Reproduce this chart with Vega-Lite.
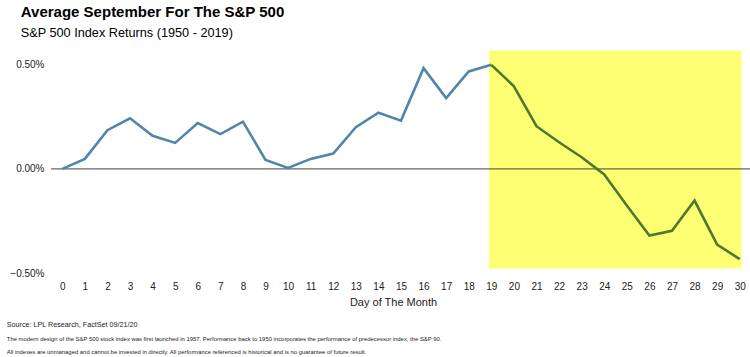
{
  "$schema": "https://vega.github.io/schema/vega-lite/v6.json",
  "background": "white",
  "padding": {"left": 6, "top": 5, "right": 0, "bottom": 0},
  "config": {
    "view": {"stroke": null},
    "font": "Liberation Sans",
    "concat": {"spacing": 0},
    "axisX": {"labelOverlap": false, "labelBound": false}
  },
  "title": {
    "text": "Average September For The S&P 500",
    "subtitle": "S&P 500 Index Returns (1950 - 2019)",
    "anchor": "start",
    "frame": "bounds",
    "font": "Liberation Sans",
    "fontSize": 15,
    "fontWeight": "bold",
    "color": "#000000",
    "subtitleFont": "Liberation Sans",
    "subtitleFontSize": 12.7,
    "subtitleColor": "#000000",
    "subtitlePadding": 7,
    "offset": 4,
    "dx": 14
  },
  "datasets": {
    "returns": [
      {"day": 0, "ret": 0.0, "series": "Before"},
      {"day": 1, "ret": 0.048, "series": "Before"},
      {"day": 2, "ret": 0.186, "series": "Before"},
      {"day": 3, "ret": 0.243, "series": "Before"},
      {"day": 4, "ret": 0.159, "series": "Before"},
      {"day": 5, "ret": 0.125, "series": "Before"},
      {"day": 6, "ret": 0.22, "series": "Before"},
      {"day": 7, "ret": 0.167, "series": "Before"},
      {"day": 8, "ret": 0.227, "series": "Before"},
      {"day": 9, "ret": 0.043, "series": "Before"},
      {"day": 10, "ret": 0.005, "series": "Before"},
      {"day": 11, "ret": 0.048, "series": "Before"},
      {"day": 12, "ret": 0.074, "series": "Before"},
      {"day": 13, "ret": 0.2, "series": "Before"},
      {"day": 14, "ret": 0.27, "series": "Before"},
      {"day": 15, "ret": 0.232, "series": "Before"},
      {"day": 16, "ret": 0.484, "series": "Before"},
      {"day": 17, "ret": 0.34, "series": "Before"},
      {"day": 18, "ret": 0.468, "series": "Before"},
      {"day": 19, "ret": 0.5, "series": "Before"},
      {"day": 19, "ret": 0.5, "series": "After"},
      {"day": 20, "ret": 0.397, "series": "After"},
      {"day": 21, "ret": 0.205, "series": "After"},
      {"day": 22, "ret": 0.128, "series": "After"},
      {"day": 23, "ret": 0.056, "series": "After"},
      {"day": 24, "ret": -0.027, "series": "After"},
      {"day": 25, "ret": -0.176, "series": "After"},
      {"day": 26, "ret": -0.32, "series": "After"},
      {"day": 27, "ret": -0.297, "series": "After"},
      {"day": 28, "ret": -0.152, "series": "After"},
      {"day": 29, "ret": -0.364, "series": "After"},
      {"day": 30, "ret": -0.433, "series": "After"}
    ],
    "highlight": [
      {"x1": 18.9, "x2": 30.08, "y1": -0.478, "y2": 0.569}
    ],
    "zero": [{"y": 0}]
  },
  "vconcat": [
    {
      "width": 700,
      "height": 229,
      "title": {
        "text": "Source: LPL Research, FactSet 09/21/20",
        "subtitle": [
          "The modern design of the S&P 500 stock index was first launched in 1957. Performance back to 1950 incorporates the performance of predecessor index, the S&P 90.",
          "All indexes are unmanaged and cannot be invested in directly. All performance referenced is historical and is no guarantee of future result."
        ],
        "orient": "bottom",
        "anchor": "start",
        "frame": "bounds",
        "font": "Liberation Sans",
        "fontSize": 7.2,
        "fontWeight": "normal",
        "color": "#222222",
        "subtitleFont": "Liberation Sans",
        "subtitleFontSize": 5.9,
        "subtitleColor": "#222222",
        "subtitleLineHeight": 13,
        "subtitlePadding": 8,
        "offset": 14,
        "dx": -3
      },
      "layer": [
        {
          "data": {"name": "highlight"},
          "mark": {"type": "rect", "color": "#FFFF73"},
          "encoding": {
            "x": {
              "field": "x1",
              "type": "quantitative",
              "scale": {"domain": [-0.5, 30.5], "nice": false, "zero": false},
              "axis": {
                "title": "Day of The Month",
                "values": [0,1,2,3,4,5,6,7,8,9,10,11,12,13,14,15,16,17,18,19,20,21,22,23,24,25,26,27,28,29,30],
                "labelOverlap": false,
                "grid": false,
                "domain": false,
                "ticks": false,
                "labelFontSize": 10,
                "labelColor": "#222222",
                "labelFont": "Liberation Sans",
                "labelPadding": 8,
                "titleFontSize": 11,
                "titleFontWeight": "normal",
                "titleColor": "#222222",
                "titleFont": "Liberation Sans",
                "titlePadding": 5,
                "titleX": 342
              }
            },
            "x2": {"field": "x2"},
            "y": {
              "field": "y1",
              "type": "quantitative",
              "scale": {"domain": [-0.5, 0.6], "nice": false, "zero": false},
              "axis": {
                "title": null,
                "values": [-0.5, 0, 0.5],
                "labelExpr": "format(datum.value, '.2f') + '%'",
                "grid": false,
                "domain": false,
                "ticks": false,
                "labelFontSize": 10,
                "labelColor": "#222222",
                "labelFont": "Liberation Sans",
                "labelPadding": 7
              }
            },
            "y2": {"field": "y2"}
          }
        },
        {
          "data": {"name": "zero"},
          "mark": {"type": "rule", "color": "#404040", "strokeWidth": 1},
          "encoding": {"y": {"field": "y", "type": "quantitative"}}
        },
        {
          "data": {"name": "returns"},
          "mark": {"type": "line", "strokeWidth": 2.6, "strokeJoin": "miter"},
          "encoding": {
            "x": {
              "field": "day",
              "type": "quantitative",
              "scale": {"domain": [-0.5, 30.5], "nice": false, "zero": false},
              "axis": {
                "title": "Day of The Month",
                "values": [0,1,2,3,4,5,6,7,8,9,10,11,12,13,14,15,16,17,18,19,20,21,22,23,24,25,26,27,28,29,30],
                "labelOverlap": false,
                "grid": false,
                "domain": false,
                "ticks": false,
                "labelFontSize": 10,
                "labelColor": "#222222",
                "labelFont": "Liberation Sans",
                "labelPadding": 8,
                "titleFontSize": 11,
                "titleFontWeight": "normal",
                "titleColor": "#222222",
                "titleFont": "Liberation Sans",
                "titlePadding": 5,
                "titleX": 342
              }
            },
            "y": {
              "field": "ret",
              "type": "quantitative",
              "scale": {"domain": [-0.5, 0.6], "nice": false, "zero": false},
              "axis": {
                "title": null,
                "values": [-0.5, 0, 0.5],
                "labelExpr": "format(datum.value, '.2f') + '%'",
                "grid": false,
                "domain": false,
                "ticks": false,
                "labelFontSize": 10,
                "labelColor": "#222222",
                "labelFont": "Liberation Sans",
                "labelPadding": 7
              }
            },
            "detail": {"field": "series"},
            "color": {
              "field": "series",
              "type": "nominal",
              "scale": {"domain": ["Before", "After"], "range": ["#4F86AB", "#4A7A2E"]},
              "legend": null
            }
          }
        }
      ]
    }
  ]
}
